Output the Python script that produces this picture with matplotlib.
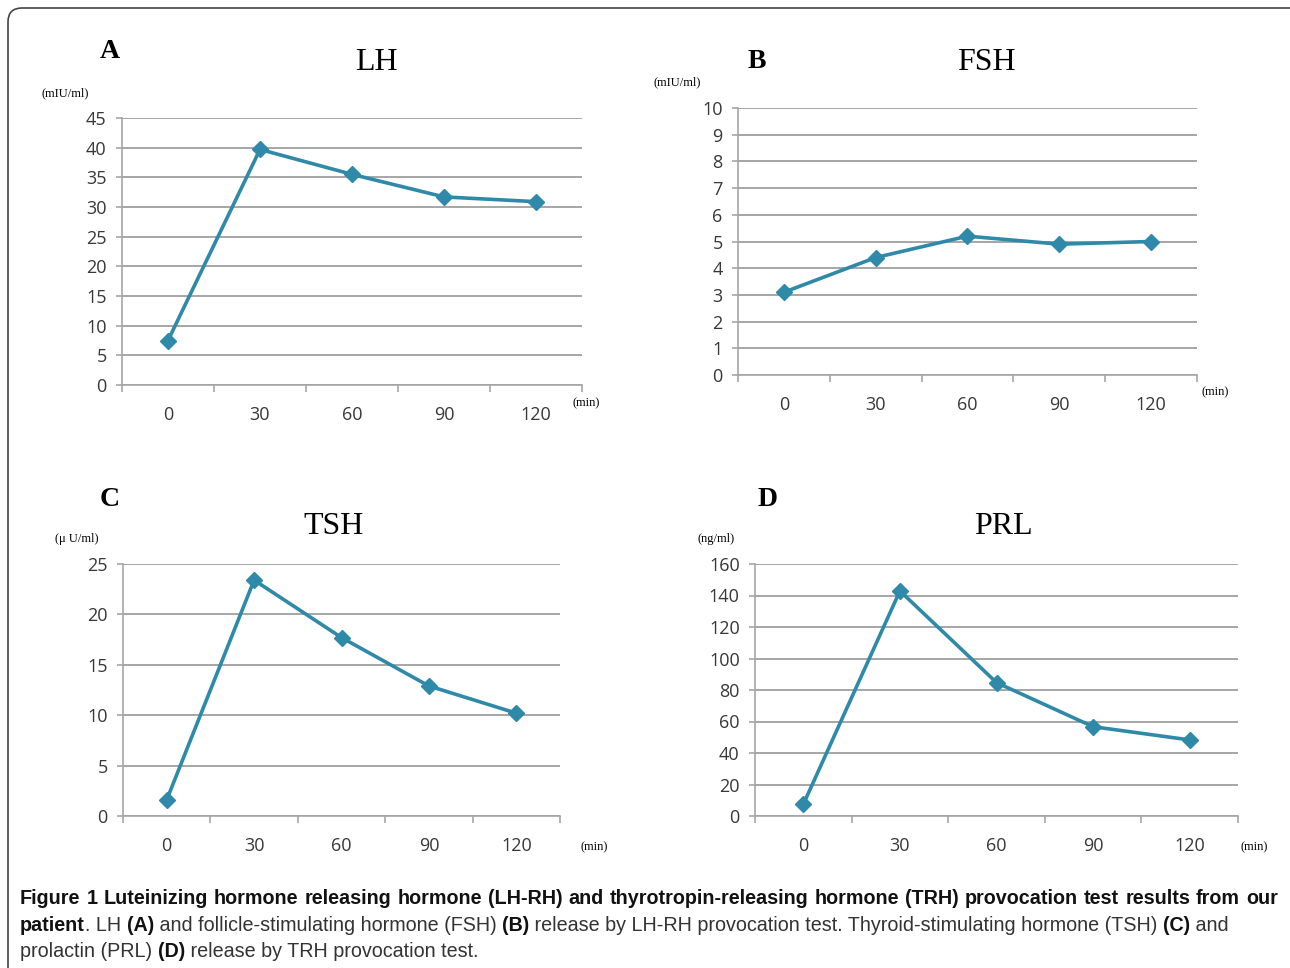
import matplotlib

matplotlib.use("Agg")
import matplotlib.pyplot as plt  # noqa: E402
from matplotlib.patches import FancyBboxPatch  # noqa: E402
from matplotlib.ticker import FixedLocator  # noqa: E402
from matplotlib.transforms import IdentityTransform  # noqa: E402

W, H = 1290, 968

times = ["0", "30", "60", "90", "120"]
lh = [7.5, 39.7, 35.5, 31.7, 30.9]
fsh = [3.1, 4.4, 5.2, 4.9, 5.0]
tsh = [1.6, 23.4, 17.7, 12.9, 10.2]
prl = [7.4, 142.9, 84.7, 56.7, 48.3]

titles = ["LH", "FSH", "TSH", "PRL"]
letters = ["A", "B", "C", "D"]
units = ["(mIU/ml)", "(mIU/ml)", "(\u03bc U/ml)", "(ng/ml)"]
y_ticks = [list(range(0, 46, 5)), list(range(0, 11)), list(range(0, 26, 5)), list(range(0, 161, 20))]

# pixel boxes: left, top, right, bottom
boxes = [(122, 118, 582, 385), (738, 108, 1197, 375), (123, 564, 560, 816), (755, 564, 1238, 816)]
letter_pos = [(110, 51), (757, 61), (110, 500), (768, 500)]
title_pos = [(376, 62), (986, 62), (334, 527), (1003, 527)]
unit_pos = [(65, 93), (677, 82), (77, 539), (716, 539)]
min_pos = [(586, 403), (1215, 392), (594, 847), (1254, 847)]

LINE = "#2f89a8"
GRID = "#a6a6a6"

fig = plt.figure(figsize=(W / 100, H / 100), dpi=100)
px = IdentityTransform()

fig.add_artist(FancyBboxPatch((8, -30), 1320, H - 8 + 30,
                              boxstyle="round,pad=0,rounding_size=14",
                              transform=px, facecolor="none", edgecolor="#444", linewidth=1.2))

for i, vals in enumerate([lh, fsh, tsh, prl]):
    l, t, r, b = boxes[i]
    ax = fig.add_axes([l / W, 1 - b / H, (r - l) / W, (b - t) / H])
    ax.plot(times, vals, color=LINE, linewidth=2.6, marker="D", markersize=8.5,
            markerfacecolor=LINE, markeredgecolor=LINE, zorder=3)
    yt = y_ticks[i]
    ax.set_ylim(yt[0], yt[-1])
    ax.set_xlim(-0.5, len(times) - 0.5)
    ax.set_yticks(yt)
    ax.yaxis.grid(True, color=GRID, linewidth=1.4)
    ax.set_axisbelow(True)
    for s in ["top", "right"]:
        ax.spines[s].set_visible(False)
    for s in ["left", "bottom"]:
        ax.spines[s].set_color(GRID)
        ax.spines[s].set_linewidth(1.2)
    ax.xaxis.set_minor_locator(FixedLocator([k - 0.5 for k in range(len(times) + 1)]))
    ax.tick_params(axis="x", which="major", length=0, pad=15)
    ax.tick_params(axis="x", which="minor", length=5, color=GRID, width=1.2)
    ax.tick_params(axis="y", length=4, color=GRID, width=1.2, pad=7)
    ax.tick_params(labelsize=13, labelcolor="#383838")
    for lab in ax.get_xticklabels() + ax.get_yticklabels():
        lab.set_family("Open Sans")

    fig.text(letter_pos[i][0], H - letter_pos[i][1], letters[i], transform=px,
             family="Liberation Serif", fontweight="bold", fontsize=20, ha="center", va="center")
    fig.text(title_pos[i][0], H - title_pos[i][1], titles[i], transform=px,
             family="Liberation Serif", fontsize=23, ha="center", va="center")
    fig.text(unit_pos[i][0], H - unit_pos[i][1], units[i], transform=px,
             family="Liberation Serif", fontsize=9, ha="center", va="center")
    fig.text(min_pos[i][0], H - min_pos[i][1], "(min)", transform=px,
             family="Liberation Serif", fontsize=9, ha="center", va="center")

# caption
renderer = fig.canvas.get_renderer()
CAP_FAMILY = ["Liberation Sans Narrow", "Liberation Sans"]


def text_width(s, size, bold):
    weight = "bold" if bold else "normal"
    t1 = fig.text(0, 0, s + "|", fontsize=size, family=CAP_FAMILY, fontweight=weight, transform=px)
    t2 = fig.text(0, 0, "|", fontsize=size, family=CAP_FAMILY, fontweight=weight, transform=px)
    w = t1.get_window_extent(renderer).width - t2.get_window_extent(renderer).width
    t1.remove()
    t2.remove()
    return w


def draw_parts(x, y, parts, size):
    for s, bold in parts:
        fig.text(x, H - y, s, fontsize=size, family=CAP_FAMILY,
                 fontweight="bold" if bold else "normal",
                 color="#111111" if bold else "#333333",
                 transform=px, ha="left", va="baseline")
        x += text_width(s, size, bold)


line1 = ("Figure 1 Luteinizing hormone releasing hormone (LH-RH) and thyrotropin-releasing "
         "hormone (TRH) provocation test results from our")
x0, x1 = 20, 1278
nat = text_width(line1, 10, True)
size = 10 * (x1 - x0) * 0.995 / nat

words = line1.split(" ")
ww = [text_width(w, size, True) for w in words]
gap = (x1 - x0 - sum(ww)) / (len(words) - 1)
x = x0
for w, wd in zip(words, ww):
    fig.text(x, H - 904, w, fontsize=size, family=CAP_FAMILY, fontweight="bold",
             color="#111111", transform=px, ha="left", va="baseline")
    x += wd + gap

draw_parts(x0, 931, [
    ("patient", True), (". LH ", False), ("(A)", True),
    (" and follicle-stimulating hormone (FSH) ", False), ("(B)", True),
    (" release by LH-RH provocation test. Thyroid-stimulating hormone (TSH) ", False),
    ("(C)", True), (" and", False)], size)
draw_parts(x0, 957, [
    ("prolactin (PRL) ", False), ("(D)", True), (" release by TRH provocation test.", False)], size)

fig.savefig("out.png", dpi=100)
